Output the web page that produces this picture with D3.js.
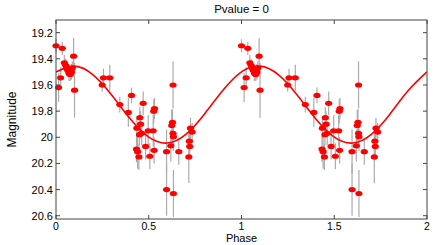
<!DOCTYPE html>
<html><head><meta charset="utf-8">
<script src="https://cdn.jsdelivr.net/npm/d3@7"></script>
<style>body{margin:0;background:#fff}svg{display:block;font-family:"Liberation Sans",Arial,sans-serif}</style>
</head><body><div id="c"></div>
<script>
// Observed points (one cycle; plotted again at phase+1)
const phase = [0.000,0.034,0.014,0.025,0.045,0.052,0.058,0.064,0.070,0.077,0.083,0.088,0.095,0.100,
  0.249,0.256,0.290,0.344,0.390,0.407,0.436,0.434,0.440,0.447,0.452,0.456,0.450,0.462,0.470,0.483,
  0.497,0.506,0.524,0.529,0.531,0.527,0.596,0.596,0.619,0.631,0.628,0.624,0.631,0.633,0.633,0.662,
  0.716,0.719,0.721,0.725,0.734];
const magnitude = [19.30,19.32,19.62,19.545,19.43,19.45,19.47,19.49,19.51,19.52,19.50,19.47,19.38,19.64,
  19.60,19.545,19.545,19.75,19.81,19.68,19.93,20.09,20.11,20.15,19.85,19.90,19.98,19.97,19.74,20.07,
  19.95,20.145,19.95,20.10,19.78,19.80,20.11,20.40,20.065,19.60,19.885,19.91,19.97,19.995,20.43,20.11,
  20.15,20.03,20.07,19.93,19.96];
const magError = [0.05,0.05,0.11,0.08,0.06,0.05,0.06,0.05,0.06,0.05,0.06,0.05,0.14,0.21,
  0.05,0.07,0.10,0.06,0.11,0.06,0.08,0.10,0.13,0.10,0.08,0.10,0.08,0.09,0.09,0.10,
  0.12,0.10,0.12,0.10,0.08,0.09,0.17,0.20,0.12,0.18,0.10,0.12,0.10,0.11,0.18,0.10,
  0.20,0.10,0.10,0.08,0.07];
const cycles = [0, 1];
// Fitted model curve, read at phase steps of 0.1
const fitPhase = [0,0.1,0.2,0.3,0.4,0.5,0.6,0.7,0.8,0.9,1.0,1.1,1.2,1.3,1.4,1.5,1.6,1.7,1.8,1.9,2.0];
const fitMag = [19.50,19.456,19.523,19.677,19.859,19.999,20.044,19.977,19.823,19.641,
  19.50,19.456,19.523,19.677,19.859,19.999,20.044,19.977,19.823,19.641,19.50];
const xTicks = [0,0.5,1,1.5,2];
const yTicks = [19.2,19.4,19.6,19.8,20,20.2,20.4,20.6];
const title = "Pvalue = 0", xLabel = "Phase", yLabel = "Magnitude";

const W=436,H=245, L=56,R=427,T=20,B=219;
const svg=d3.select("#c").append("svg").attr("width",W).attr("height",H);
const x=d3.scaleLinear().domain([0,2]).range([L,R]);
const y=d3.scaleLinear().domain([19.103,20.625]).range([T,B]);

const pts=[];
cycles.forEach(c=>phase.forEach((p,i)=>pts.push({p:p+c,m:magnitude[i],e:magError[i]})));

const plot=svg.append("g");
svg.append("clipPath").attr("id","clp").append("rect").attr("x",L).attr("y",T).attr("width",R-L).attr("height",B-T);
plot.selectAll("line.eb").data(pts).join("line").attr("class","eb")
  .attr("x1",d=>x(d.p)).attr("x2",d=>x(d.p)).attr("y1",d=>y(d.m-d.e)).attr("y2",d=>y(d.m+d.e))
  .attr("stroke","#ababab").attr("stroke-width",1.2);
plot.append("path").datum(fitPhase.map((p,i)=>[p,fitMag[i]]))
  .attr("d",d3.line().x(d=>x(d[0])).y(d=>y(d[1])).curve(d3.curveNatural))
  .attr("fill","none").attr("stroke","#ff0000").attr("stroke-width",1.6).attr("clip-path","url(#clp)");
plot.selectAll("ellipse").data(pts).join("ellipse")
  .attr("cx",d=>x(d.p)).attr("cy",d=>y(d.m)).attr("rx",3.6).attr("ry",2.6).attr("fill","#ff0000");

// frame
svg.append("rect").attr("x",L).attr("y",T).attr("width",R-L).attr("height",B-T)
  .attr("fill","none").attr("stroke","#444").attr("stroke-width",1);
const ax=svg.append("g").attr("font-size",10.5).attr("fill","#000");
xTicks.forEach(t=>{
  ax.append("line").attr("x1",x(t)).attr("x2",x(t)).attr("y1",B).attr("y2",B-4).attr("stroke","#444");
  ax.append("line").attr("x1",x(t)).attr("x2",x(t)).attr("y1",T).attr("y2",T+4).attr("stroke","#444");
  ax.append("text").attr("x",x(t)).attr("y",B+10.5).attr("text-anchor","middle").text(d3.format("")(t));
});
yTicks.forEach(t=>{
  ax.append("line").attr("x1",L).attr("x2",L+4).attr("y1",y(t)).attr("y2",y(t)).attr("stroke","#444");
  ax.append("line").attr("x1",R).attr("x2",R-4).attr("y1",y(t)).attr("y2",y(t)).attr("stroke","#444");
  ax.append("text").attr("x",L-3).attr("y",y(t)+4).attr("text-anchor","end").attr("font-size",11).text(d3.format("")(t));
});
svg.append("text").attr("x",(L+R)/2).attr("y",13).attr("text-anchor","middle").attr("font-size",11.5).text(title);
svg.append("text").attr("x",(L+R)/2).attr("y",242).attr("text-anchor","middle").attr("font-size",11).text(xLabel);
svg.append("text").attr("transform",`translate(16,${(T+B)/2}) rotate(-90)`).attr("text-anchor","middle").attr("font-size",12).text(yLabel);
</script></body></html>
